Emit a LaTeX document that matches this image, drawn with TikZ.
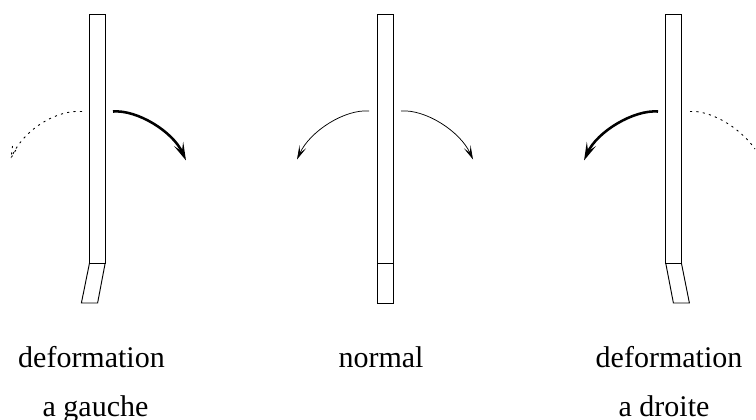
\documentclass[tikz,border=0pt]{standalone}
\usepackage{fontspec}
\setmainfont{Liberation Serif}
\usetikzlibrary{arrows.meta, positioning}
\tikzset{
    barline/.style={draw=black, line width=0.7pt},
    thinarc/.style={line width=0.55pt, -{Stealth[length=10.5pt, width=5.5pt, inset=5pt]}},
    thickarc/.style={line width=1.9pt, -{Stealth[length=13.5pt, width=7.5pt, inset=6pt]}},
    dotarc/.style={line width=0.65pt, dash pattern=on 1.6pt off 3.2pt},
    caption/.style={font=\fontsize{22.5pt}{27pt}\selectfont, inner sep=0pt, anchor=base}
}

\begin{document}
\begin{tikzpicture}[x=0.75pt, y=-0.75pt]
    \useasboundingbox (0,0) rectangle (756,419);

    % Bars
    \foreach \x in {89.5,377.3,665.7} {
        \draw[barline] (\x,14) rectangle (\x+15.7,263);
    }

    % Lower parts
    \draw[barline] (89.5,263) -- (81.4,303) -- (97.6,303) -- (105.2,263);
    \draw[barline] (377.3,263) -- (377.3,303) -- (393,303) -- (393,263);
    \draw[barline] (665.7,263) -- (673.4,303) -- (689.4,303) -- (681.4,263);

    % Ends of the arcs
    \coordinate (leftdotA) at (82,111.5);
    \coordinate (leftdotB) at (11,158);
    \coordinate (leftbarbA) at (12.5,146);
    \coordinate (leftbarbB) at (17,148);
    \coordinate (leftboldA) at (113,111.5);
    \coordinate (leftboldB) at (186,160.5);
    \coordinate (midleftA) at (369,111);
    \coordinate (midleftB) at (297,159.5);
    \coordinate (midrightA) at (401,111);
    \coordinate (midrightB) at (473,159.5);
    \coordinate (rightboldA) at (658,111.5);
    \coordinate (rightboldB) at (584,160.5);
    \coordinate (rightdotA) at (690,111.5);
    \coordinate (rightdotB) at (755,149);

    % Arcs
    \draw[dotarc] (leftdotA) .. controls (58,109.5) and (24,128) .. (leftdotB);
    \draw[dotarc] (leftbarbA) -- (leftdotB) -- (leftbarbB);
    \draw[thickarc] (leftboldA) .. controls (137,109.5) and (173,131.5) .. (leftboldB);
    \draw[thinarc] (midleftA) .. controls (345,109) and (310,131) .. (midleftB);
    \draw[thinarc] (midrightA) .. controls (425,109) and (460,131) .. (midrightB);
    \draw[thickarc] (rightboldA) .. controls (634,109.5) and (597,131.5) .. (rightboldB);
    \draw[dotarc] (rightdotA) .. controls (708,110) and (738,125) .. (rightdotB);

    % Labels
    \node[caption] (defleft) at (91.5,367) {deformation};
    \node[caption] (gauche) at (95.5,416) {a gauche};
    \node[caption] (normal) at (381,367) {normal};
    \node[caption] (defright) at (669,367) {deformation};
    \node[caption] (droite) at (664,416) {a droite};
\end{tikzpicture}
\end{document}
